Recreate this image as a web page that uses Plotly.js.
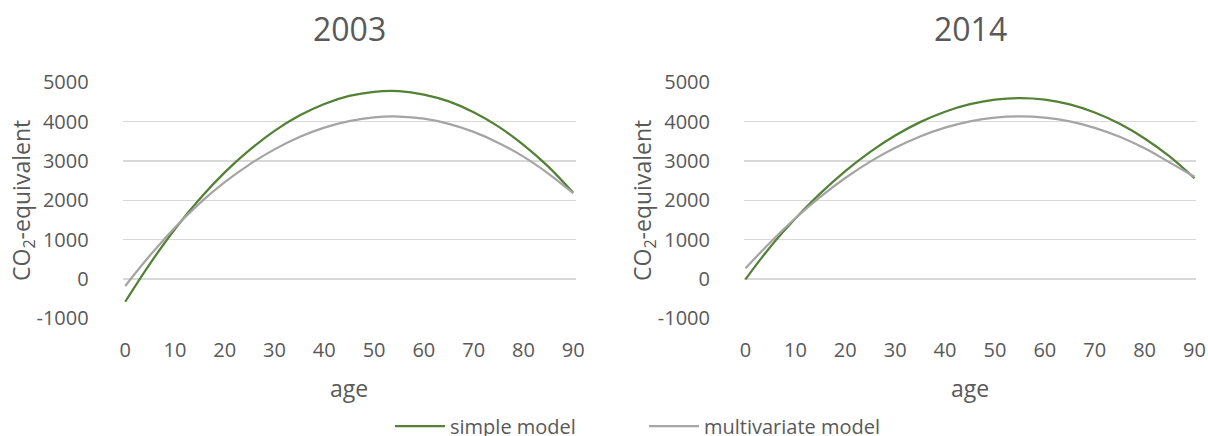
<!DOCTYPE html>
<html>
<head>
<meta charset="utf-8">
<script src="https://cdn.plot.ly/plotly-3.0.1.min.js"></script>
<style>html,body{margin:0;padding:0;background:#fff;}#chart{width:1208px;height:436px;}</style>
</head>
<body>
<div id="chart"></div>
<script>
// ages (x values)
const ages = [0,5,10,15,20,25,30,35,40,45,50,55,60,65,70,75,80,85,90];
// 2003 panel
const simple2003 = [-580,390,1270,2040,2710,3280,3765,4155,4450,4655,4760,4775,4690,4515,4240,3875,3410,2855,2190];
const multi2003  = [-180,600,1310,1930,2460,2915,3295,3610,3850,4015,4110,4130,4075,3945,3740,3460,3110,2680,2180];
// 2014 panel
const simple2014 = [-10,820,1536,2176,2742,3232,3647,3988,4253,4444,4559,4600,4562,4440,4234,3945,3573,3117,2560];
const multi2014  = [270,935,1543,2087,2567,2983,3335,3623,3847,4007,4103,4135,4103,4005,3842,3615,3322,2965,2600];
const panelTitles = ["2003","2014"];
const seriesNames = ["simple model","multivariate model"];
const xTicks = [0,10,20,30,40,50,60,70,80,90];
const yTicks = [-1000,0,1000,2000,3000,4000,5000];
const yTickText = ["-1000","0","1000","2000","3000","4000","5000"];
const xTitle = "age";
const yTitle = "CO<sub>2</sub>-equivalent";

const GREEN = "#538135", GRAY = "#A5A5A5", TXT = "#595959", GRID = "#D9D9D9";
const FONT = "Open Sans, Lato, sans-serif";

const traces = [
  {x: ages, y: simple2003, name: seriesNames[0], type: "scatter", mode: "lines", line: {color: GREEN, width: 2.25, shape: "spline"}, xaxis: "x", yaxis: "y", legendgroup: "s"},
  {x: ages, y: multi2003, name: seriesNames[1], type: "scatter", mode: "lines", line: {color: GRAY, width: 2.25, shape: "spline"}, xaxis: "x", yaxis: "y", legendgroup: "m"},
  {x: ages, y: simple2014, name: seriesNames[0], type: "scatter", mode: "lines", line: {color: GREEN, width: 2.25, shape: "spline"}, xaxis: "x2", yaxis: "y2", legendgroup: "s", showlegend: false},
  {x: ages, y: multi2014, name: seriesNames[1], type: "scatter", mode: "lines", line: {color: GRAY, width: 2.25, shape: "spline"}, xaxis: "x2", yaxis: "y2", legendgroup: "m", showlegend: false}
];

const W = 1208, H = 436;
const yDom = [1 - 318.3/H, 1 - 82.3/H];

function xAxis(dom, rng, anchor) {
  return {
    domain: dom, range: rng, tickvals: xTicks, ticks: "", showgrid: false, zeroline: false, showline: false,
    anchor: anchor,
    tickfont: {family: FONT, size: 20, color: TXT}, ticklabelstandoff: 18,
    title: {text: xTitle, font: {family: FONT, size: 23, color: TXT}, standoff: 18},
    fixedrange: true
  };
}
function yAxis(anchor) {
  return {
    domain: yDom, range: [-1001, 5001], tickvals: yTicks, ticktext: yTickText, ticks: "",
    showgrid: true, gridcolor: GRID, gridwidth: 1.3,
    zeroline: false, showline: false, anchor: anchor,
    tickfont: {family: FONT, size: 20, color: TXT}, ticklabelstandoff: 33,
    fixedrange: true
  };
}

const ann = (text, xref, x, y, size, angle) => ({
  text: text, xref: xref, yref: "paper", x: x, y: y, xanchor: "center", yanchor: "middle",
  showarrow: false, textangle: angle || 0, font: {family: FONT, size: size, color: TXT}
});

const layout = {
  width: W, height: H,
  margin: {l: 0, r: 0, t: 0, b: 0, autoexpand: false},
  paper_bgcolor: "#fff", plot_bgcolor: "#fff",
  showlegend: true,
  legend: {orientation: "h", x: 390/W, xanchor: "left", y: 1 - 426/H, yanchor: "middle",
           font: {family: FONT, size: 20, color: TXT}, itemwidth: 50, tracegroupgap: 0,
           entrywidth: 189, entrywidthmode: "pixels"},
  xaxis: xAxis([122.7/W, 575.7/W], [-0.5, 90.5], "y"),
  yaxis: yAxis("x"),
  xaxis2: xAxis([744/W, 1196/W], [-0.3, 90.3], "y2"),
  yaxis2: yAxis("x2"),
  annotations: [
    ann(panelTitles[0], "x domain", 0.5, 1 - 29/H, 32),
    ann(panelTitles[1], "x2 domain", 0.5, 1 - 29/H, 32),
    ann(yTitle, "paper", 22/W, 1 - 201/H, 23, -90),
    ann(yTitle, "paper", 643/W, 1 - 201/H, 23, -90)
  ]
};

Plotly.newPlot("chart", traces, layout, {displayModeBar: false, staticPlot: true});
</script>
</body>
</html>
